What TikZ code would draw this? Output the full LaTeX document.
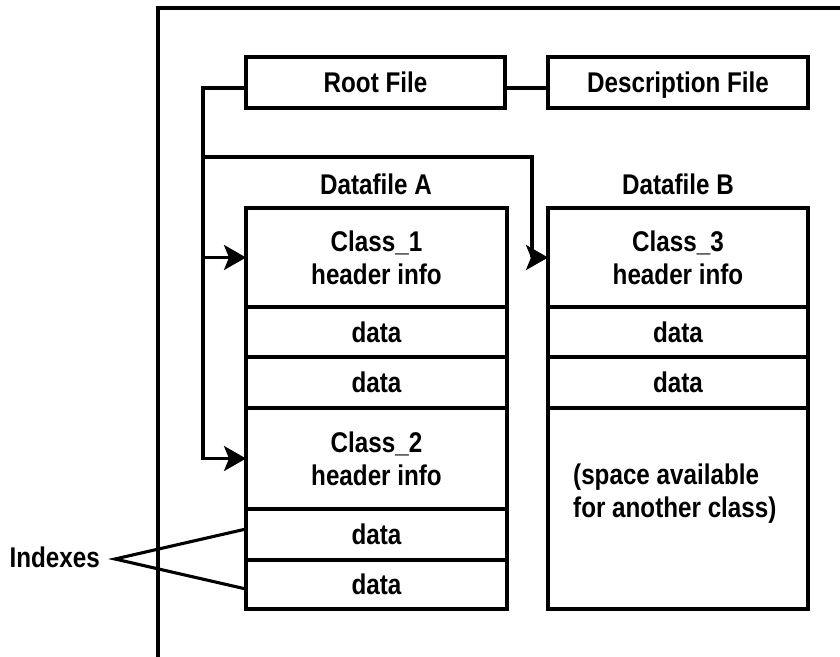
\documentclass[tikz,border=0pt]{standalone}
\usepackage{fontspec}
\newfontfamily\labfont{Liberation Sans}[FakeStretch=0.85]
\newcommand\mylabfont{\labfont\bfseries\fontsize{28.5}{33}\selectfont}
\usetikzlibrary{arrows.meta}
\begin{document}
\begin{tikzpicture}[x=1pt,y=-1pt,
  box/.style={draw, line width=3.6pt, inner sep=0pt, outer sep=0pt, anchor=north west, font=\mylabfont, align=center},
  lab/.style={font=\mylabfont},
  conn/.style={line width=3.1pt},
  arr/.style={conn, -{Stealth[length=22pt,width=25pt,inset=5pt]}}]
\useasboundingbox (0,0) rectangle (840,656);
\fill[white] (0,0) rectangle (840,656);
\begin{scope}
\clip (0,0) rectangle (840,656);
\draw[line width=3.6pt] (158,700) -- (158,8) -- (900,8);
\end{scope}
% top boxes
\node[box, minimum width=259, minimum height=51, text depth=0pt] (root) at (246,57) {Root File};
\node[box, minimum width=260, minimum height=51, text depth=0pt] (desc) at (548,57) {Description File};
% labels
\node[lab] (dfa) at (376,184) {Datafile A};
\node[lab] (dfb) at (678,184) {Datafile B};
% Datafile A
\node[box, minimum width=261, minimum height=99] (c1) at (246,208) {Class\_1\\header info};
\node[box, minimum width=261, minimum height=50] (a2) at (246,307) {data};
\node[box, minimum width=261, minimum height=51] (a3) at (246,357) {data};
\node[box, minimum width=261, minimum height=101] (c2) at (246,408) {Class\_2\\header info};
\node[box, minimum width=261, minimum height=51] (a5) at (246,509) {data};
\node[box, minimum width=261, minimum height=49] (a6) at (246,560) {data};
% Datafile B
\node[box, minimum width=260, minimum height=99] (c3) at (548,208) {Class\_3\\header info};
\node[box, minimum width=260, minimum height=50] (b2) at (548,307) {data};
\node[box, minimum width=260, minimum height=51] (b3) at (548,357) {data};
\node[box, minimum width=260, minimum height=201] (b4) at (548,408) {};
\node[lab, anchor=west, align=left, inner sep=0pt] (space) at (573,494) {(space available\\for another class)};
% connectors
\coordinate (s1) at (203,88);
\coordinate (s2) at (203,157);
\coordinate (s3) at (532,157);
\draw[conn] ([yshift=-5.5pt]root.east) -- ([yshift=-5.5pt]desc.west);
\draw[arr] ([yshift=-5.5pt]root.west) -- (s1) -- (s1 |- c2.west) -- (c2.west);
\draw[arr] (s1 |- c1.west) -- (c1.west);
\draw[arr] (s2) -- (s3) |- (c3.west);
% indexes
\node[lab, anchor=east, inner sep=0pt] (idx) at (100,557) {Indexes};
\coordinate (tip) at (115,559);
\coordinate (i1) at (246,529);
\coordinate (i2) at (246,589);
\draw[conn, line join=miter] (i1) -- (tip) -- (i2);
\end{tikzpicture}
\end{document}
